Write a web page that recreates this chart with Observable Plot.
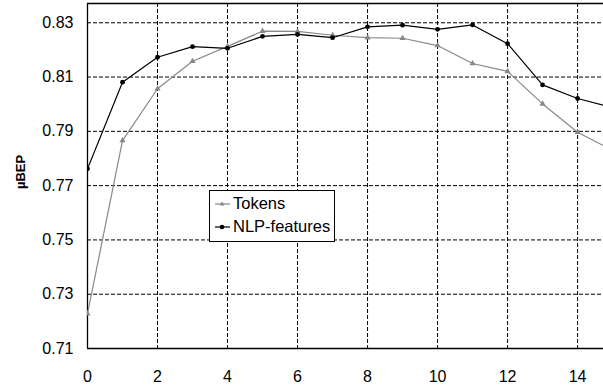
<!DOCTYPE html>
<html>
<head>
<meta charset="utf-8">
<script src="https://cdn.jsdelivr.net/npm/d3@7"></script>
<script src="https://cdn.jsdelivr.net/npm/@observablehq/plot@0.6"></script>
<style>
  html, body { margin: 0; padding: 0; background: #fff; }
  #wrap { position: relative; width: 603px; height: 392px; overflow: hidden; font-family: Arial, "Liberation Sans", sans-serif; }
  #legend { position: absolute; left: 209px; top: 190px; width: 126px; height: 52px; background: #fff; border: 1px solid #000; box-sizing: border-box; font-size: 16.5px; }
  #legend div { display: flex; align-items: center; height: 21px; margin-top: 2px; }
  #legend svg { margin-left: 5px; margin-right: 3px; }
</style>
</head>
<body>
<div id="wrap"></div>
<script>
const xs = [0, 1, 2, 3, 4, 5, 6, 7, 8, 9, 10, 11, 12, 13, 14, 15];
const tokens = [0.7228, 0.7866, 0.8057, 0.8158, 0.8213, 0.8269, 0.8268, 0.8254, 0.8245, 0.8243, 0.8216, 0.8150, 0.8121, 0.8001, 0.7897, 0.7830];
const nlp = [0.7762, 0.8081, 0.8173, 0.8212, 0.8206, 0.8250, 0.8257, 0.8245, 0.8285, 0.8291, 0.8276, 0.8292, 0.8223, 0.8071, 0.8021, 0.7987];
const seriesNames = ["Tokens", "NLP-features"];
const xTicks = [0, 2, 4, 6, 8, 10, 12, 14];
const yTicks = [0.71, 0.73, 0.75, 0.77, 0.79, 0.81, 0.83];
const yLabel = "µBEP";

const tokData = xs.map((x, i) => ({x, y: tokens[i]}));
const nlpData = xs.map((x, i) => ({x, y: nlp[i]}));

const xDomain = [0, 14.74];
const yDomain = [0.71, 0.8371];

const plot = Plot.plot({
  width: 603,
  height: 392,
  marginLeft: 87,
  marginRight: 0,
  marginTop: 3,
  marginBottom: 44,
  style: { fontFamily: "Arial, 'Liberation Sans', sans-serif", fontSize: "16px", background: "#fff", color: "#000" },
  x: { domain: xDomain, ticks: xTicks, tickFormat: d => String(d) },
  y: { domain: yDomain, ticks: yTicks, tickFormat: d => d.toFixed(2) },
  marks: [
    Plot.gridX(xTicks.filter(d => d > 0), { stroke: "#000", strokeOpacity: 1, strokeDasharray: "4,2" }),
    Plot.gridY(yTicks.filter(d => d > 0.71), { stroke: "#000", strokeOpacity: 1, strokeDasharray: "4,2" }),
    Plot.axisX({ ticks: xTicks, tickSize: 0, tickPadding: 22, fontSize: 16, label: null }),
    Plot.axisY({ ticks: yTicks, tickSize: 0, tickPadding: 14, fontSize: 16, label: null }),
    Plot.ruleX([xDomain[0]], { stroke: "#000", strokeWidth: 1.3 }),
    Plot.ruleY([yDomain[0]], { stroke: "#000", strokeWidth: 1.3 }),
    Plot.ruleY([yDomain[1]], { stroke: "#000", strokeWidth: 1.3 }),
    Plot.line(tokData, { x: "x", y: "y", stroke: "#888", strokeWidth: 1.2, clip: true }),
    Plot.dot(tokData, { x: "x", y: "y", symbol: "triangle", r: 2.3, fill: "#888", stroke: "none", clip: true }),
    Plot.line(nlpData, { x: "x", y: "y", stroke: "#000", strokeWidth: 1.2, clip: true }),
    Plot.dot(nlpData, { x: "x", y: "y", r: 2.4, fill: "#000", stroke: "none", clip: true }),
    Plot.text([yLabel], { frameAnchor: "left", textAnchor: "middle", lineAnchor: "middle", dx: -67, dy: -4, rotate: -90, fontWeight: "bold", fontSize: 13, text: d => d })
  ]
});

const wrap = document.getElementById("wrap");
wrap.appendChild(plot);

const legend = document.createElement("div");
legend.id = "legend";
const styles = [
  { color: "#888", shape: "tri" },
  { color: "#000", shape: "dot" }
];
seriesNames.forEach((name, i) => {
  const row = document.createElement("div");
  const s = styles[i];
  const marker = s.shape === "tri"
    ? `<polygon points="7,2.5 9.5,6.5 4.5,6.5" fill="${s.color}"/>`
    : `<circle cx="7" cy="5" r="2.3" fill="${s.color}"/>`;
  row.innerHTML = `<svg width="15" height="10"><line x1="0" x2="15" y1="5" y2="5" stroke="${s.color}" stroke-width="1.2"/>${marker}</svg><span>${name}</span>`;
  legend.appendChild(row);
});
wrap.appendChild(legend);
</script>
</body>
</html>
